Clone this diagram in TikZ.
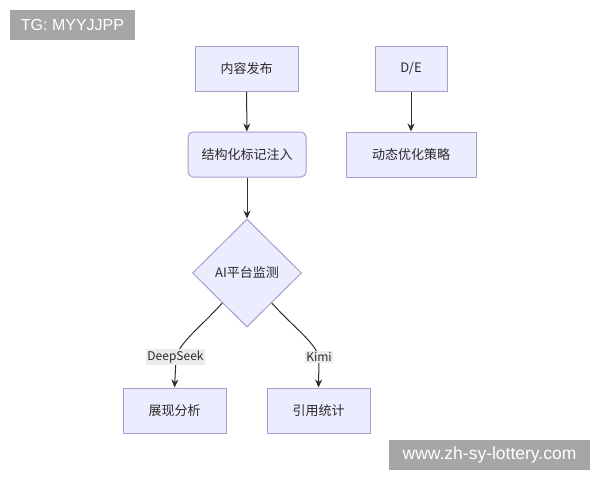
\documentclass[tikz,border=0pt]{standalone}
\usepackage{fontspec}
\setmainfont{Noto Sans CJK SC}
\newfontfamily\wmfont{Liberation Sans}
\usetikzlibrary{shapes.geometric,arrows.meta,calc}
\definecolor{boxfill}{HTML}{ECECFF}
\definecolor{boxdraw}{HTML}{A49FCB}
\definecolor{linec}{HTML}{2E2E2E}
\definecolor{wmgray}{HTML}{A6A6A6}
\definecolor{lblbg}{HTML}{EBEBEB}
\definecolor{txt}{HTML}{2A2A2A}
\begin{document}
\begin{tikzpicture}[x=1pt,y=-1pt,
  flowbox/.style={draw=boxdraw,fill=boxfill,line width=1pt,minimum height=45pt,inner sep=0pt,font=\fontsize{13}{15}\selectfont,text=txt},
  decis/.style={diamond,draw=boxdraw,fill=boxfill,line width=1pt,minimum width=109pt,minimum height=108pt,inner sep=0pt,font=\fontsize{13}{15}\selectfont,text=txt},
  conn/.style={draw=linec,line width=1pt,-{Stealth[length=8pt,width=7pt]}},
  edgelbl/.style={fill=lblbg,inner sep=1.5pt,font=\fontsize{12}{14}\selectfont,text=txt},
  wmark/.style={fill=wmgray,text=white,inner sep=0pt}]
\useasboundingbox (0,0) rectangle (600,480);
\fill[white] (0,0) rectangle (600,480);
\node[wmark,minimum width=125pt,minimum height=30pt,font=\wmfont\fontsize{16}{18}\selectfont] (tg) at (72.5,25) {TG: MYYJJPP};
\node[wmark,minimum width=201pt,minimum height=30pt,font=\wmfont\fontsize{17.5}{19}\selectfont] (wm) at (489.5,455) {www.zh-sy-lottery.com};
\node[flowbox,minimum width=103pt] (pub) at (246.5,68.5) {内容发布};
\node[flowbox,minimum width=118pt,rounded corners=5pt] (mark) at (247,154.5) {结构化标记注入};
\node[decis] (ai) at (247,273) {AI平台监测};
\node[flowbox,minimum width=72pt] (de) at (411,68.5) {D/E};
\node[flowbox,minimum width=130pt] (opt) at (411,154.5) {动态优化策略};
\node[flowbox,minimum width=103pt] (show) at (174.5,410.5) {展现分析};
\node[flowbox,minimum width=103pt] (cite) at (318.5,410.5) {引用统计};
\coordinate (aL) at ($(ai.west)!0.55!(ai.south)$);
\coordinate (aR) at ($(ai.east)!0.55!(ai.south)$);
\draw[conn] (pub) -- (mark);
\draw[conn] (mark) -- (ai);
\draw[conn] (de) -- (opt);
\draw[conn] (aL) .. controls (200,328) and (176,345) .. (176,360) -- (show.north);
\draw[conn] (aR) .. controls (294,328) and (319,345) .. (319,360) -- (cite.north);
\node[edgelbl] (l1) at (175.5,357) {DeepSeek};
\node[edgelbl] (l2) at (319,357) {Kimi};
\end{tikzpicture}
\end{document}
